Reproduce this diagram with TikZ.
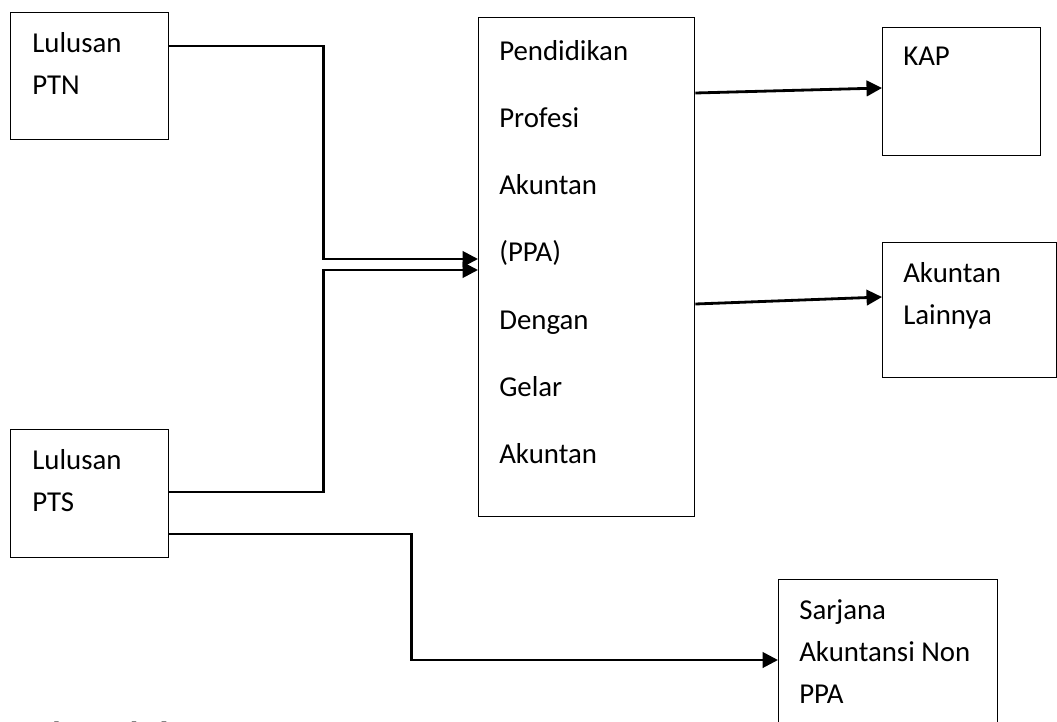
\documentclass[tikz,border=0pt]{standalone}
\usepackage{fontspec}
\setmainfont{Carlito}
\newfontfamily\srcfont{Liberation Serif}
\usetikzlibrary{positioning, calc, arrows.meta}

\begin{document}
\begin{tikzpicture}[x=0.025cm, y=-0.025cm]
\tikzstyle{box}=[draw, line width=0.9pt, anchor=north west, inner sep=0]
\tikzstyle{txt}=[anchor=north west, inner sep=0, align=left, font=\fontsize{20.5}{29.9}\selectfont]
\tikzstyle{ppatxt}=[txt, font=\fontsize{20.5}{47.8}\selectfont]
\tikzstyle{conn}=[line width=2pt, -{Triangle[length=11pt, width=11pt]}]
\useasboundingbox (0,0) rectangle (1057,722);
\clip (0,0) rectangle (1057,722);
% kotak
\node[box, minimum width=3.95cm, minimum height=3.175cm] (ptn) at (10,12) {};
\node[box, minimum width=3.95cm, minimum height=3.2cm] (pts) at (10,429) {};
\node[box, minimum width=5.4cm, minimum height=12.475cm] (ppa) at (478,17) {};
\node[box, minimum width=3.95cm, minimum height=3.2cm] (kap) at (882,27) {};
\node[box, minimum width=4.35cm, minimum height=3.375cm] (lain) at (882,242) {};
\node[box, minimum width=5.475cm, minimum height=4.5cm] (non) at (778,579) {};
% teks
\node[txt] (ptnT) at (32,32) {Lulusan\\PTN};
\node[txt] (ptsT) at (32,449) {Lulusan\\PTS};
\node[ppatxt] (ppaT) at (499,40) {Pendidikan\\Profesi\\Akuntan\\(PPA)\\Dengan\\Gelar\\Akuntan};
\node[txt] (kapT) at (903,47) {KAP};
\node[txt] (lainT) at (903,262) {Akuntan\\Lainnya};
\node[txt] (nonT) at (799,599) {Sarjana\\Akuntansi Non\\PPA};
\node[anchor=north west, inner sep=0, font=\srcfont\fontsize{21}{25}\selectfont] (src) at (0,721.5) {Sumber: Kholis, 2008};
% titik sambung
\coordinate (ptnOut) at ($(ptn.north east)+(0,34)$);
\coordinate (ptsOut) at ($(pts.north east)+(0,63)$);
\coordinate (ptsOut2) at ($(pts.north east)+(0,105)$);
\coordinate (ppaIn1) at ($(ppa.north west)+(0,242)$);
\coordinate (ppaIn2) at ($(ppa.north west)+(0,253)$);
% panah
\draw[conn] (ptnOut) -| ($(ptnOut)!0.5!(ppaIn1)$) |- (ppaIn1);
\draw[conn] (ptsOut) -| ($(ptsOut)!0.5!(ppaIn2)$) |- (ppaIn2);
\draw[conn] (ptsOut2) -- ++(242,0) |- ($(non.north west)+(0,81)$);
\draw[conn] ($(ppa.north east)+(0,76)$) -- ($(kap.north west)+(0,61)$);
\draw[conn] ($(ppa.north east)+(0,287)$) -- ($(lain.north west)+(0,55)$);
\end{tikzpicture}
\end{document}
